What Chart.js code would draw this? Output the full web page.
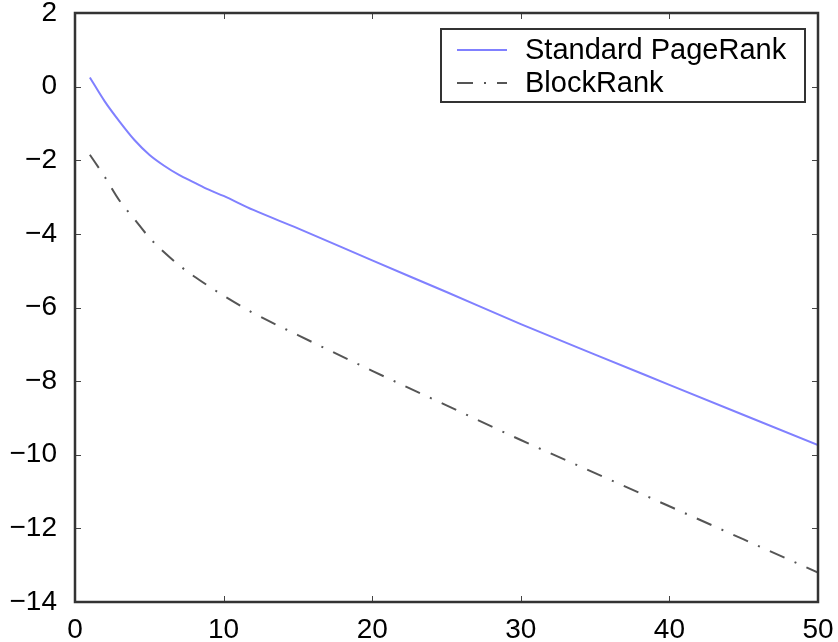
<!DOCTYPE html>
<html>
<head>
<meta charset="utf-8">
<script src="https://cdn.jsdelivr.net/npm/chart.js@4/dist/chart.umd.min.js"></script>
<style>
  html, body { margin: 0; padding: 0; background: #fff; }
  #wrap { width: 838px; height: 642px; }
</style>
</head>
<body>
<div id="wrap"><canvas id="chart" width="838" height="642"></canvas></div>
<script>
// valores
const iterations = [1, 2, 3, 4, 5, 6, 7, 8, 9, 10, 12, 15, 20, 25, 30, 35, 40, 45, 50];
const pageRank   = [0.25, -0.4, -0.95, -1.45, -1.85, -2.15, -2.4, -2.6, -2.8, -2.97, -3.35, -3.85, -4.72, -5.58, -6.45, -7.28, -8.1, -8.92, -9.74];
const blockRank  = [-1.85, -2.45, -3.1, -3.6, -4.1, -4.5, -4.85, -5.15, -5.42, -5.68, -6.15, -6.75, -7.72, -8.66, -9.6, -10.5, -11.4, -12.3, -13.2];
const seriesNames = ['Standard PageRank', 'BlockRank'];
const xTicks = [0, 10, 20, 30, 40, 50];
const yTicks = [2, 0, -2, -4, -6, -8, -10, -12, -14];

const FONT = '"Liberation Sans", Arial, Helvetica, sans-serif';

const toPoints = ys => iterations.map((x, i) => ({ x: x, y: ys[i] }));

// marco, marcas hacia dentro y leyenda con recuadro (estilo matlab)
const framePlugin = {
    id: 'frame',
    afterDraw(chart) {
        const ctx = chart.ctx;
        const a = chart.chartArea;
        const xs = chart.scales.x, ys = chart.scales.y;
        ctx.save();
        ctx.strokeStyle = '#444';
        ctx.lineWidth = 1;
        const t = 6;
        xTicks.forEach(v => {
            const px = Math.round(xs.getPixelForValue(v)) + 0.5;
            ctx.beginPath();
            ctx.moveTo(px, a.bottom); ctx.lineTo(px, a.bottom - t);
            ctx.moveTo(px, a.top); ctx.lineTo(px, a.top + t);
            ctx.stroke();
        });
        yTicks.forEach(v => {
            const py = Math.round(ys.getPixelForValue(v)) + 0.5;
            ctx.beginPath();
            ctx.moveTo(a.left, py); ctx.lineTo(a.left + t, py);
            ctx.moveTo(a.right, py); ctx.lineTo(a.right - t, py);
            ctx.stroke();
        });
        ctx.strokeStyle = '#333';
        ctx.lineWidth = 2.5;
        ctx.strokeRect(a.left, a.top, a.right - a.left, a.bottom - a.top);

        // leyenda
        const bx = 441, by = 29, bw = 364, bh = 73;
        ctx.fillStyle = '#fff';
        ctx.fillRect(bx, by, bw, bh);
        ctx.strokeStyle = '#333';
        ctx.lineWidth = 2;
        ctx.strokeRect(bx, by, bw, bh);
        ctx.font = '29px ' + FONT;
        ctx.textBaseline = 'middle';
        ctx.fillStyle = '#000';
        chart.data.datasets.forEach((ds, i) => {
            const ly = by + 21 + i * 33;
            ctx.save();
            ctx.strokeStyle = ds.borderColor;
            ctx.lineWidth = ds.borderWidth;
            ctx.setLineDash(ds.borderDash || []);
            ctx.beginPath();
            ctx.moveTo(bx + 16, ly); ctx.lineTo(bx + 66, ly);
            ctx.stroke();
            ctx.restore();
            ctx.fillText(ds.label, bx + 84, ly + 1);
        });
        ctx.restore();
    }
};

new Chart(document.getElementById('chart'), {
    type: 'scatter',
    data: {
        datasets: [{
            label: seriesNames[0],
            data: toPoints(pageRank),
            showLine: true,
            borderColor: 'rgb(128,128,255)',
            borderWidth: 2,
            pointRadius: 0,
            cubicInterpolationMode: 'monotone'
        }, {
            label: seriesNames[1],
            data: toPoints(blockRank),
            showLine: true,
            borderColor: '#555',
            borderWidth: 2,
            borderDash: [16, 11, 2, 11],
            pointRadius: 0,
            cubicInterpolationMode: 'monotone'
        }]
    },
    options: {
        responsive: false,
        animation: false,
        layout: { padding: { top: 13, right: 20, left: 0, bottom: 0 } },
        plugins: { legend: { display: false }, tooltip: { enabled: false } },
        scales: {
            x: {
                type: 'linear', min: 0, max: 50,
                afterBuildTicks: s => { s.ticks = xTicks.map(v => ({ value: v })); },
                afterFit: s => { s.height = 40; s.paddingLeft = 0; s.paddingRight = 0; },
                grid: { display: false },
                border: { display: false },
                ticks: { color: '#000', font: { family: FONT, size: 28 }, padding: 3, maxRotation: 0 }
            },
            y: {
                type: 'linear', min: -14, max: 2,
                afterBuildTicks: s => { s.ticks = yTicks.map(v => ({ value: v })); },
                afterFit: s => { s.width = 75; s.paddingTop = 0; s.paddingBottom = 0; },
                grid: { display: false },
                border: { display: false },
                ticks: {
                    color: '#000', font: { family: FONT, size: 28 }, padding: 10,
                    callback: v => v < 0 ? '\u2212' + Math.abs(v) : String(v)
                }
            }
        }
    },
    plugins: [framePlugin]
});
</script>
</body>
</html>
